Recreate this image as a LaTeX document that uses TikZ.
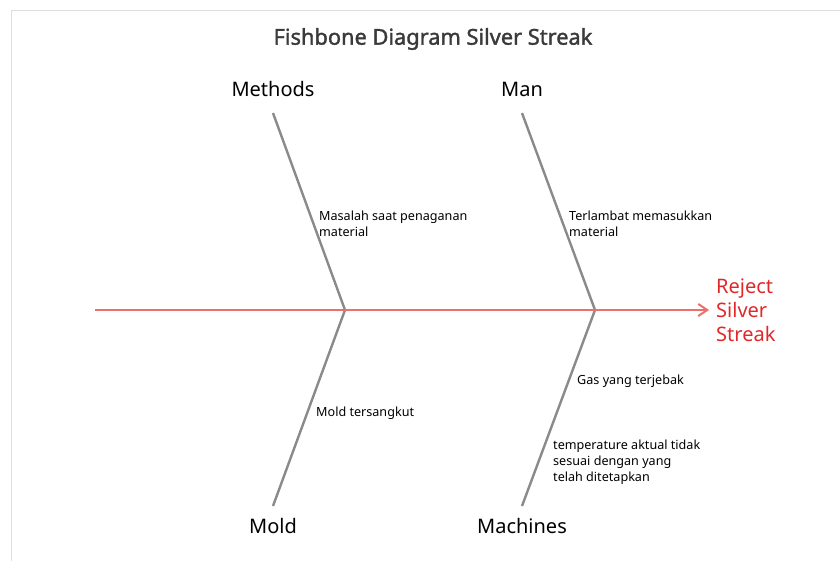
\documentclass[tikz,border=0pt]{standalone}
\usepackage{fontspec}
\setmainfont{Noto Sans}
\newfontfamily\titlefont{Noto Sans}[FakeBold=1.6]
\usetikzlibrary{arrows.meta}
\definecolor{bone}{HTML}{8A8A8A}
\definecolor{spine}{HTML}{E8716F}
\definecolor{effect}{HTML}{E0282A}
\definecolor{frame}{HTML}{DDDDDD}
\definecolor{titlec}{HTML}{3A3A3A}
\begin{document}
\begin{tikzpicture}[x=1pt,y=-1pt,
  bonestyle/.style={draw=bone,line width=2.4pt},
  catlabel/.style={font=\fontsize{20}{24}\selectfont,text=black,inner sep=0pt,anchor=center},
  causetext/.style={font=\fontsize{12.6}{15.8}\selectfont,text=black,inner sep=0pt,anchor=north west,align=left},
  spinestyle/.style={draw=spine,line width=2.4pt,-{Straight Barb[length=9pt,width=12pt,line width=2pt]}}]
\useasboundingbox (0,0) rectangle (840,561);
% frame
\draw[frame,line width=1pt] (11,561) -- (11,11) -- (840,11);
% title
\node[font=\titlefont\fontsize{21.8}{26}\selectfont,text=titlec,inner sep=0pt] (title) at (433,39) {Fishbone Diagram Silver Streak};
% coordinates
\coordinate (tail) at (95,310);
\coordinate (head) at (709,310);
\coordinate (j1) at (345,310);
\coordinate (j2) at (595,310);
\coordinate (methodsTop) at (273,113);
\coordinate (manTop) at (522,113);
\coordinate (moldBot) at (273,506);
\coordinate (machBot) at (522,506);
% bones
\draw[bonestyle] (methodsTop) -- (j1) -- (moldBot);
\draw[bonestyle] (manTop) -- (j2) -- (machBot);
% spine
\draw[spinestyle] (tail) -- (head);
% labels
\node[catlabel] (methods) at (273,89) {Methods};
\node[catlabel] (man) at (522,89) {Man};
\node[catlabel] (mold) at (273,526) {Mold};
\node[catlabel] (machines) at (522,526) {Machines};
\node[font=\fontsize{20}{24}\selectfont,text=effect,inner sep=0pt,anchor=west,align=left] (effectnode) at (716,310) {Reject\\Silver\\Streak};
% causes
\node[causetext] (c1) at (319,211) {Masalah saat penaganan\\material};
\node[causetext] (c2) at (569,211) {Terlambat memasukkan\\material};
\node[causetext] (c3) at (316,407) {Mold tersangkut};
\node[causetext] (c4) at (577,375) {Gas yang terjebak};
\node[causetext] (c5) at (553,440) {temperature aktual tidak\\sesuai dengan yang\\telah ditetapkan};
\end{tikzpicture}
\end{document}
